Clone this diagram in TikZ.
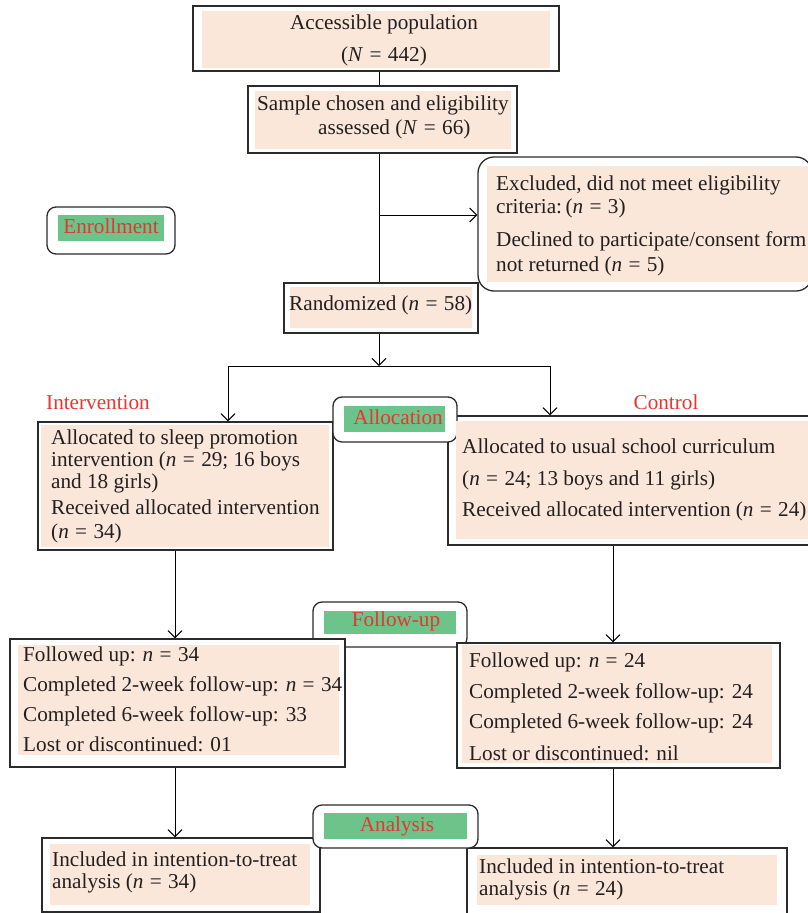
\documentclass[tikz,border=0pt]{standalone}
\usepackage{fontspec}
\setmainfont{Liberation Serif}
\usetikzlibrary{arrows.meta}
\definecolor{linec}{HTML}{2B2B2B}
\definecolor{textc}{HTML}{231F20}
\definecolor{peach}{HTML}{FBE7DA}
\definecolor{lgreen}{HTML}{6DC48A}
\definecolor{redt}{HTML}{E8352F}
\newcommand\eqs{\hspace{0.3em}=\hspace{0.3em}}
\begin{document}
\begin{tikzpicture}[x=1pt,y=-1pt,
  font=\fontsize{21.2}{25}\selectfont,
  outer/.style={draw=linec, line width=1.3pt, fill=white, inner sep=0pt},
  lab/.style={draw=linec, line width=1.3pt, fill=white, rounded corners=9pt, inner sep=0pt},
  txt/.style={anchor=west, inner sep=0pt, text height=14pt, text depth=4pt, text=textc},
  ctxt/.style={anchor=center, inner sep=0pt, text height=14pt, text depth=4pt, text=textc},
  rtxt/.style={anchor=center, inner sep=0pt, text height=14pt, text depth=4pt, text=redt},
  arr/.style={-{Straight Barb[length=7pt,width=14pt]}, line width=1pt, draw=black},
  conn/.style={line width=1pt, draw=black}]
\useasboundingbox (0,0) rectangle (808,913);

% ---------- outer boxes ----------
\node[outer, minimum width=366pt, minimum height=65pt] (b1) at (376,38.5) {};
\node[outer, minimum width=269pt, minimum height=67pt] (b2) at (382.5,119.5) {};
\node[outer, rounded corners=16pt, minimum width=334pt, minimum height=134pt] (excl) at (645,224) {};
\node[outer, minimum width=194pt, minimum height=50pt] (rand) at (381,308) {};
\node[outer, minimum width=295pt, minimum height=128pt] (intv) at (185.5,486) {};
\node[outer, minimum width=367pt, minimum height=129pt] (ctrl) at (631.5,480.5) {};
\node[outer, minimum width=278pt, minimum height=74pt] (anL) at (181,875) {};
\node[outer, minimum width=320pt, minimum height=74pt] (anR) at (627,885) {};

% ---------- label boxes ----------
\node[lab, minimum width=128pt, minimum height=47pt] (enr) at (111,230.5) {};
\node[lab, minimum width=124pt, minimum height=45pt] (alloc) at (395,419.5) {};
\node[lab, minimum width=154pt, minimum height=45pt] (fu) at (390,624.5) {};
\node[lab, minimum width=165pt, minimum height=43pt] (an) at (395.5,826.5) {};

\node[outer, minimum width=335pt, minimum height=128pt] (fuL) at (177.5,703) {};
\node[outer, minimum width=323pt, minimum height=125pt] (fuR) at (618.5,705.5) {};

% ---------- fills ----------
\fill[peach] (202,11) rectangle (550,68);
\fill[peach] (255,91) rectangle (511,149);
\fill[peach] (487,166) rectangle (808,282);
\fill[peach] (290,287) rectangle (472,328);
\fill[peach] (41,425) rectangle (329,547);
\fill[peach] (456,421) rectangle (808,539);
\fill[peach] (18,645) rectangle (339,755);
\fill[peach] (462,645) rectangle (772,763);
\fill[peach] (50,844) rectangle (310,905);
\fill[peach] (477,855) rectangle (777,905);
\fill[lgreen] (58,215) rectangle (164,241);
\fill[lgreen] (344,406) rectangle (445,432);
\fill[lgreen] (324,611) rectangle (456,634);
\fill[lgreen] (324,813) rectangle (467,839);

% ---------- texts ----------
\node[ctxt] (t1a) at (384,24) {Accessible population};
\node[ctxt] (t1b) at (384,56) {(\textit{N}\eqs 442)};
\node[txt] (t2a) at (257,105) {Sample chosen and eligibility};
\node[txt] (t2b) at (318,129) {assessed (\textit{N}\eqs 66)};
\node[txt] (t3a) at (496,185) {Excluded, did not meet eligibility};
\node[txt] (t3b) at (496,208) {criteria:\,(\textit{n}\eqs 3)};
\node[txt] (t3c) at (496,241) {Declined to participate/consent form};
\node[txt] (t3d) at (496,266) {not returned (\textit{n}\eqs 5)};
\node[txt] (t4) at (289,305) {Randomized (\textit{n}\eqs 58)};
\node[txt] (t5a) at (51,439) {Allocated to sleep promotion};
\node[txt] (t5b) at (51,461) {intervention (\textit{n}\eqs 29; 16 boys};
\node[txt] (t5c) at (51,483) {and 18 girls)};
\node[txt] (t5d) at (51,509) {Received allocated intervention};
\node[txt] (t5e) at (51,533) {(\textit{n}\eqs 34)};
\node[txt] (t6a) at (462,448) {Allocated to usual school curriculum};
\node[txt] (t6b) at (462,480) {(\textit{n}\eqs 24; 13 boys and 11 girls)};
\node[txt] (t6c) at (462,511) {Received allocated intervention (\textit{n}\eqs 24)};
\node[txt] (t7a) at (23,656) {Followed up: \textit{n}\eqs 34};
\node[txt] (t7b) at (23,686) {Completed 2-week follow-up: \textit{n}\eqs 34};
\node[txt] (t7c) at (23,716) {Completed 6-week follow-up: 33};
\node[txt] (t7d) at (23,746) {Lost or discontinued: 01};
\node[txt] (t8a) at (469,662) {Followed up: \textit{n}\eqs 24};
\node[txt] (t8b) at (469,693) {Completed 2-week follow-up: 24};
\node[txt] (t8c) at (469,723) {Completed 6-week follow-up: 24};
\node[txt] (t8d) at (469,755) {Lost or discontinued: nil};
\node[txt] (t9a) at (52,861) {Included in intention-to-treat};
\node[txt] (t9b) at (52,883) {analysis (\textit{n}\eqs 34)};
\node[txt] (t10a) at (479,868) {Included in intention-to-treat};
\node[txt] (t10b) at (479,890) {analysis (\textit{n}\eqs 24)};

\node[rtxt] (lenr) at (111,228) {Enrollment};
\node[rtxt] (lalloc) at (398,419) {Allocation};
\node[rtxt] (lfu) at (396,621) {Follow-up};
\node[rtxt] (lan) at (397,826) {Analysis};
\node[rtxt] (lint) at (98,404) {Intervention};
\node[rtxt] (lctrl) at (666,404) {Control};

% ---------- connectors ----------
\coordinate (cx) at (379,0);
\draw[conn] (cx |- b1.south) -- (cx |- b2.north);
\draw[conn] (cx |- b2.south) -- (cx |- rand.north);
\coordinate (j1) at (379,215);
\draw[arr] (j1) -- (excl.west |- j1);
\coordinate (j2) at (379,366);
\draw[arr] (rand.south -| j2) -- (j2);
\coordinate (hl) at (228,366);
\coordinate (hr) at (550,366);
\draw[conn] (hl) -- (hr);
\draw[arr] (hl) -- (hl |- intv.north);
\draw[arr] (hr) -- (hr |- ctrl.north);
\coordinate (cl) at (175,0);
\coordinate (cr) at (613,0);
\draw[arr] (cl |- intv.south) -- (cl |- fuL.north);
\draw[arr] (cr |- ctrl.south) -- (cr |- fuR.north);
\draw[arr] (cl |- fuL.south) -- (cl |- anL.north);
\draw[arr] (cr |- fuR.south) -- (cr |- anR.north);
\end{tikzpicture}
\end{document}
